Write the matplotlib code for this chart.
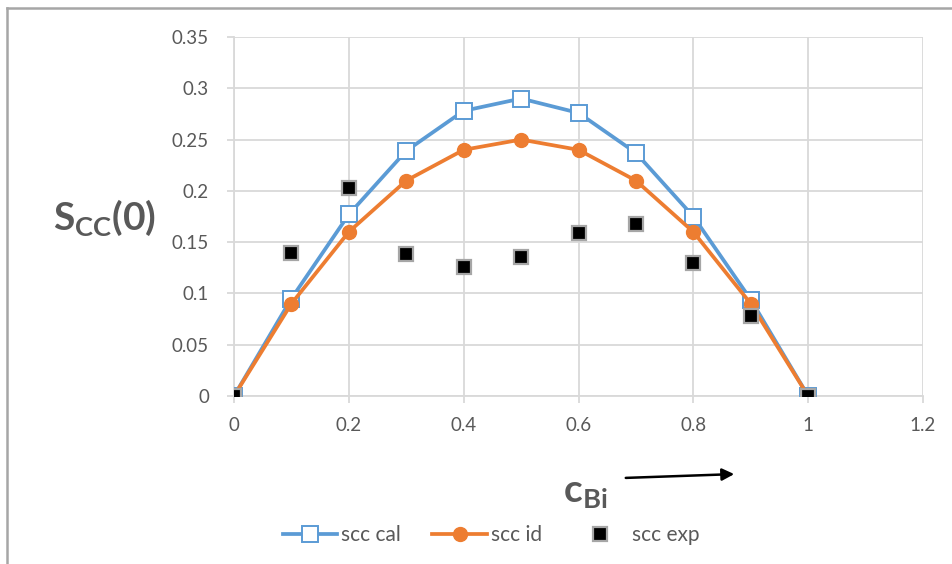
import matplotlib
matplotlib.use("Agg")
import matplotlib.pyplot as plt
from matplotlib.lines import Line2D

plt.rcParams['font.family'] = ['Lato', 'DejaVu Sans']
plt.rcParams['mathtext.fontset'] = 'custom'
plt.rcParams['mathtext.bf'] = 'Lato:bold'
plt.rcParams['mathtext.rm'] = 'Lato'

c_bi = [0, 0.1, 0.2, 0.3, 0.4, 0.5, 0.6, 0.7, 0.8, 0.9, 1.0]
scc_cal = [0, 0.095, 0.177, 0.239, 0.278, 0.290, 0.276, 0.237, 0.175, 0.094, 0]
scc_id = [0, 0.09, 0.16, 0.21, 0.24, 0.25, 0.24, 0.21, 0.16, 0.09, 0]
scc_exp = [0, 0.139, 0.203, 0.138, 0.126, 0.136, 0.159, 0.168, 0.130, 0.078, 0]

x_ticks = [0, 0.2, 0.4, 0.6, 0.8, 1.0, 1.2]
x_tick_labels = ['0', '0.2', '0.4', '0.6', '0.8', '1', '1.2']
y_ticks = [0, 0.05, 0.1, 0.15, 0.2, 0.25, 0.3, 0.35]
y_tick_labels = ['0', '0.05', '0.1', '0.15', '0.2', '0.25', '0.3', '0.35']

BLUE = '#5b9bd5'
ORANGE = '#ed7d31'
GRID = '#d9d9d9'
TXT = '#595959'

fig = plt.figure(figsize=(9.52, 5.64), dpi=100)
ax = fig.add_axes([234/952, 1-396/564, (923-234)/952, (396-37)/564])

ax.plot(c_bi, scc_cal, color=BLUE, lw=2.7, marker='s', ms=11.5, mfc='white',
        mec=BLUE, mew=1.4, zorder=3, label='scc cal')
ax.plot(c_bi, scc_id, color=ORANGE, lw=2.7, marker='o', ms=10, mfc=ORANGE,
        mec=ORANGE, zorder=4, label='scc id')
ax.plot(c_bi, scc_exp, ls='none', marker='s', ms=9.5, mfc='black',
        mec='#a6a6a6', mew=1.6, zorder=5, label='scc exp')

ax.set_xlim(0, 1.2)
ax.set_ylim(0, 0.35)
ax.set_xticks(x_ticks)
ax.set_xticklabels(x_tick_labels)
ax.set_yticks(y_ticks)
ax.set_yticklabels(y_tick_labels)
ax.grid(True, color=GRID, lw=1.3, zorder=0)
ax.set_axisbelow(True)
for s in ['top', 'right']:
    ax.spines[s].set_visible(False)
for s in ['left', 'bottom']:
    ax.spines[s].set_color(GRID)
    ax.spines[s].set_linewidth(1.3)
ax.tick_params(axis='both', direction='out', length=5, width=1.3, color=GRID,
               labelcolor=TXT, labelsize=13.5)
ax.tick_params(axis='y', pad=13)
ax.tick_params(axis='x', pad=10)

fig.text(105/952, 1-218/564, r'$\mathbf{S}_{\mathbf{CC}}\mathbf{(0)}$', fontsize=28,
         color=TXT, ha='center', va='center')
fig.text(585/952, 1-493/564, r'$\mathbf{c}_{\mathbf{Bi}}$', fontsize=28,
         color=TXT, ha='center', va='center')
fig.add_artist(matplotlib.patches.FancyArrowPatch(
    (623/952, 1-478/564), (737/952, 1-474/564), transform=fig.transFigure,
    arrowstyle='-|>', mutation_scale=18, color='black', lw=1.8))

handles = [
    Line2D([], [], color=BLUE, lw=2.7, marker='s', ms=11, mfc='white', mec=BLUE, mew=1.4),
    Line2D([], [], color=ORANGE, lw=2.7, marker='o', ms=10, mfc=ORANGE, mec=ORANGE),
    Line2D([], [], ls='none', marker='s', ms=9.5, mfc='black', mec='#a6a6a6', mew=1.6),
]
leg = fig.legend(handles, ['scc cal', 'scc id', 'scc exp'], loc='center',
                 bbox_to_anchor=(491/952, 1-535/564), ncol=3, frameon=False,
                 fontsize=15, handlelength=2.6, handletextpad=0.2, columnspacing=1.5)
for t in leg.get_texts():
    t.set_color(TXT)

# outer frame (left and top visible)
fig.add_artist(Line2D([7/952, 7/952], [0, 1-8/564], transform=fig.transFigure,
                      color='#a6a6a6', lw=1.8))
fig.add_artist(Line2D([7/952, 1], [1-8/564, 1-8/564], transform=fig.transFigure,
                      color='#a6a6a6', lw=1.8))

fig.savefig('out.png', dpi=100)
